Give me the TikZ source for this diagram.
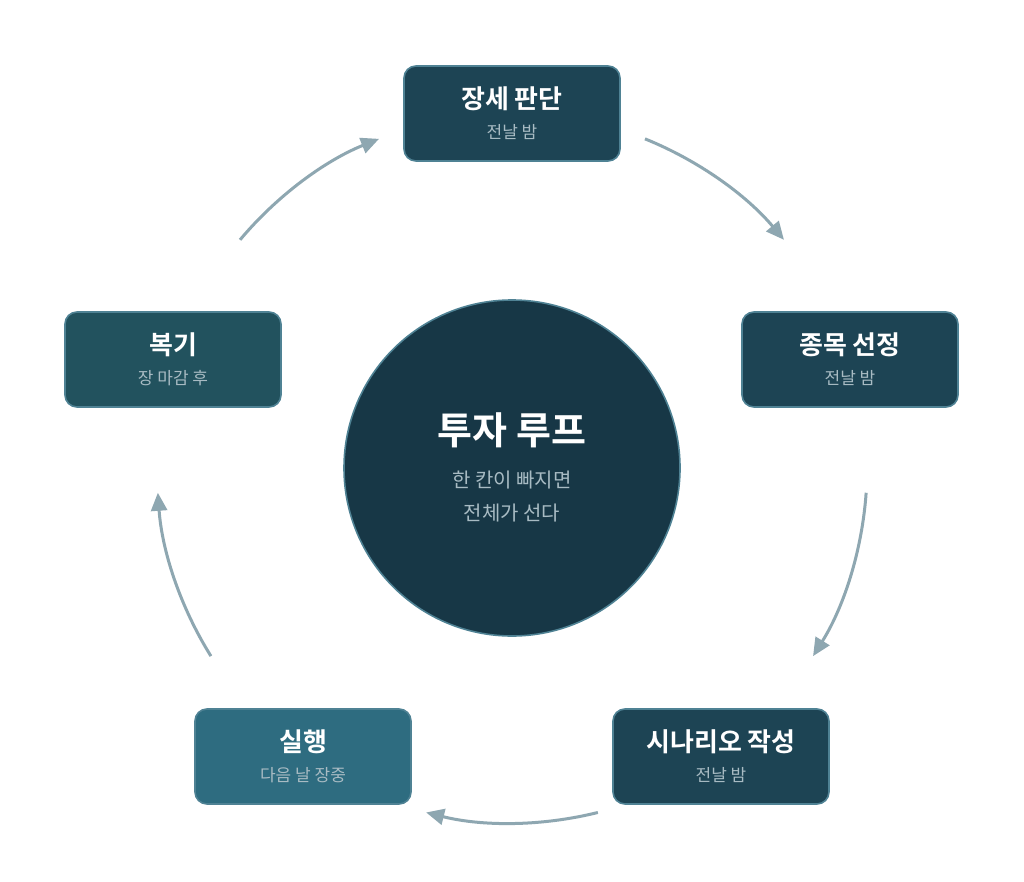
\documentclass[tikz,border=0pt]{standalone}
\usepackage{fontspec}
\setmainfont{Noto Sans CJK KR}
\newfontfamily\krbold{Noto Sans CJK KR Bold}
\usetikzlibrary{arrows.meta,calc}
\definecolor{boxA}{HTML}{1D4454}
\definecolor{boxB}{HTML}{2E6C80}
\definecolor{boxC}{HTML}{22525E}
\definecolor{hub}{HTML}{173746}
\definecolor{edge}{HTML}{4F8294}
\definecolor{sub}{HTML}{A8BBC3}
\definecolor{arr}{HTML}{8EA7B1}
\tikzset{
  stepbox/.style={draw=edge, line width=1.6pt, rounded corners=12pt, minimum width=216pt, minimum height=95pt, inner sep=0pt},
  ttl/.style={text=white, font=\krbold\fontsize{26}{30}\selectfont, anchor=center},
  subt/.style={text=sub, font=\fontsize{17}{20}\selectfont, anchor=center},
  loop/.style={draw=arr, line width=3pt, -{Triangle[length=18pt,width=16pt]}},
}
\begin{document}
\begin{tikzpicture}[x=1pt,y=-1pt]
\useasboundingbox[fill=white] (0,0) rectangle (1024,882);
\coordinate (c) at (512,468);
% hub
\node[circle, draw=edge, line width=1.6pt, fill=hub, minimum size=336pt, inner sep=0pt] (hubn) at (c) {};
\node[text=white, font=\krbold\fontsize{38}{44}\selectfont] (hubt) at (512,430) {투자 루프};
\node[text=sub, font=\fontsize{20}{24}\selectfont] (hubs1) at (512,480) {한 칸이 빠지면};
\node[text=sub, font=\fontsize{20}{24}\selectfont] (hubs2) at (512,513) {전체가 선다};
% boxes
\node[stepbox, fill=boxA] (n1) at (512,113.5) {};
\node[ttl] (n1t) at (512,99) {장세 판단};
\node[subt] (n1s) at (512,132) {전날 밤};
\node[stepbox, fill=boxA] (n2) at (850,359.5) {};
\node[ttl] (n2t) at (850,345) {종목 선정};
\node[subt] (n2s) at (850,378) {전날 밤};
\node[stepbox, fill=boxA] (n3) at (721,756.5) {};
\node[ttl] (n3t) at (721,742) {시나리오 작성};
\node[subt] (n3s) at (721,775) {전날 밤};
\node[stepbox, fill=boxB] (n4) at (303,756.5) {};
\node[ttl] (n4t) at (303,742) {실행};
\node[subt] (n4s) at (303,775) {다음 날 장중};
\node[stepbox, fill=boxC] (n5) at (173,359.5) {};
\node[ttl] (n5t) at (173,345) {복기};
\node[subt] (n5s) at (173,378) {장 마감 후};
% arrows (arcs on the loop circle, r = 355)
\draw[loop] (c) ++(68:355 and -355) arc[start angle=68, end angle=40, x radius=355, y radius=-355];
\draw[loop] (c) ++(-4:355 and -355) arc[start angle=-4, end angle=-32, x radius=355, y radius=-355];
\draw[loop] (c) ++(-76:355 and -355) arc[start angle=-76, end angle=-104, x radius=355, y radius=-355];
\draw[loop] (c) ++(-148:355 and -355) arc[start angle=-148, end angle=-176, x radius=355, y radius=-355];
\draw[loop] (c) ++(140:355 and -355) arc[start angle=140, end angle=112, x radius=355, y radius=-355];
\end{tikzpicture}
\end{document}
